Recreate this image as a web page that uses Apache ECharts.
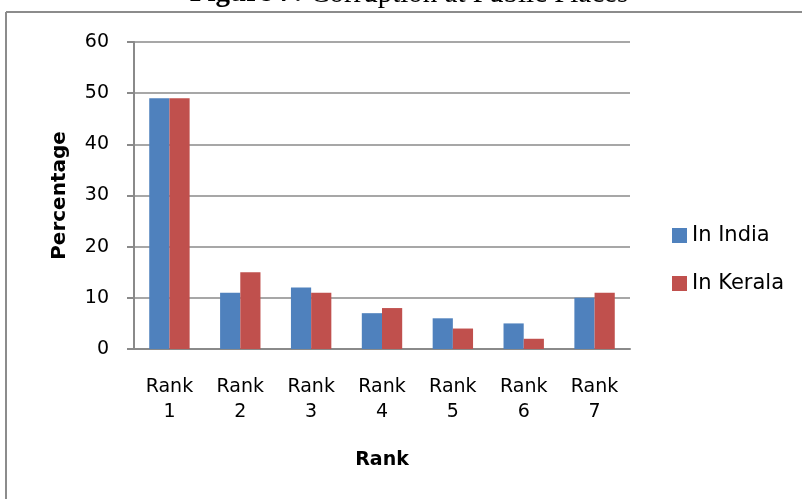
<!DOCTYPE html>
<html>
<head>
<meta charset="utf-8">
<script src="https://cdn.jsdelivr.net/npm/echarts@6/dist/echarts.min.js"></script>
<style>
html,body{margin:0;padding:0;background:#fff;}
#chart{width:802px;height:499px;}
</style>
</head>
<body>
<div id="chart"></div>
<script>
var categories = ['Rank 1', 'Rank 2', 'Rank 3', 'Rank 4', 'Rank 5', 'Rank 6', 'Rank 7'];
var inIndia = [49, 11, 12, 7, 6, 5, 10];
var inKerala = [49, 15, 11, 8, 4, 2, 11];
var seriesNames = ['In India', 'In Kerala'];
var yTicks = { min: 0, max: 60, interval: 10 };

var chart = echarts.init(document.getElementById('chart'), null, { renderer: 'canvas' });
var font = 'DejaVu Sans';
var gridColor = '#8a8a8a';

chart.setOption({
  animation: false,
  backgroundColor: '#ffffff',
  color: ['#4F81BD', '#C0504D'],
  graphic: [
    { type: 'line', shape: { x1: 6, y1: 12, x2: 803, y2: 12 }, style: { stroke: '#8c8c8c', lineWidth: 2 } },
    { type: 'line', shape: { x1: 6, y1: 12, x2: 6, y2: 500 }, style: { stroke: '#8c8c8c', lineWidth: 2 } },
    {
      type: 'text', x: 409, y: -6,
      style: {
        text: '{b|Figure 7:}{r| Corruption at Public Places}',
        textAlign: 'center', textVerticalAlign: 'middle',
        rich: {
          b: { fontFamily: 'Liberation Serif', fontWeight: 'bold', fontSize: 29, fill: '#000' },
          r: { fontFamily: 'Liberation Serif', fontSize: 29, fill: '#000' }
        }
      }
    }
  ],
  grid: { left: 134, right: 172, top: 42, bottom: 150, containLabel: false },
  legend: {
    orient: 'vertical', left: 667, top: 220,
    itemWidth: 15, itemHeight: 15, itemGap: 27,
    icon: 'rect',
    data: seriesNames,
    textStyle: { fontFamily: font, fontSize: 21, color: '#000' }
  },
  xAxis: {
    type: 'category',
    data: categories,
    name: 'Rank', nameLocation: 'middle', nameGap: 102,
    nameTextStyle: { fontFamily: font, fontWeight: 'bold', fontSize: 19, color: '#000' },
    axisLine: { lineStyle: { color: gridColor, width: 2 } },
    axisTick: { show: false },
    axisLabel: {
      fontFamily: font, fontSize: 19, color: '#000', lineHeight: 25, margin: 26,
      formatter: function (v) { return v.replace(' ', '\n'); }
    }
  },
  yAxis: {
    type: 'value', min: yTicks.min, max: yTicks.max, interval: yTicks.interval,
    name: 'Percentage', nameLocation: 'middle', nameGap: 64, nameRotate: 90,
    nameTextStyle: { fontFamily: font, fontWeight: 'bold', fontSize: 20, color: '#000' },
    axisLine: { show: true, lineStyle: { color: gridColor, width: 2 } },
    axisTick: { show: true, length: 7, lineStyle: { color: gridColor, width: 2 } },
    axisLabel: { fontFamily: font, fontSize: 19, color: '#000', margin: 25 },
    splitLine: { show: true, lineStyle: { color: gridColor, width: 1.5 } }
  },
  series: [
    { name: seriesNames[0], type: 'bar', data: inIndia, barGap: '0%', barCategoryGap: '43%' },
    { name: seriesNames[1], type: 'bar', data: inKerala, barGap: '0%', barCategoryGap: '43%' }
  ]
});
</script>
</body>
</html>
